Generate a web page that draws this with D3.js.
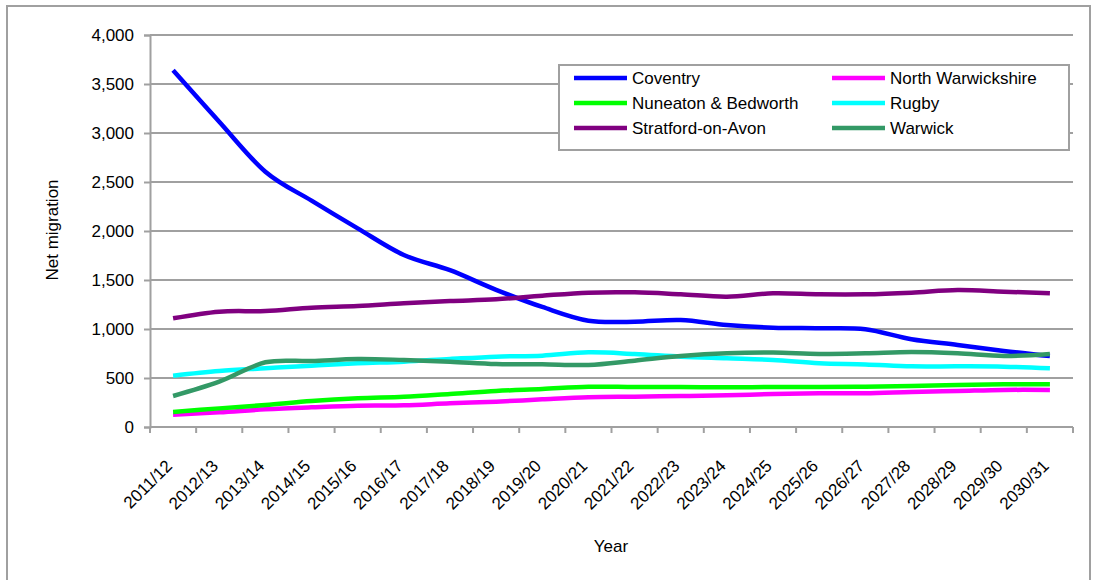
<!DOCTYPE html>
<html>
<head>
<meta charset="utf-8">
<script src="https://cdn.jsdelivr.net/npm/d3@7"></script>
<style>
  html, body { margin: 0; padding: 0; background: #fff; }
  svg { display: block; font-family: "Liberation Sans", Arial, sans-serif; }
</style>
</head>
<body>
<svg id="chart" width="1096" height="580"></svg>
<script>
const years = ["2011/12","2012/13","2013/14","2014/15","2015/16","2016/17","2017/18","2018/19","2019/20","2020/21",
               "2021/22","2022/23","2023/24","2024/25","2025/26","2026/27","2027/28","2028/29","2029/30","2030/31"];
const yTicks = [0, 500, 1000, 1500, 2000, 2500, 3000, 3500, 4000];

const coventry = [3640, 3115, 2605, 2310, 2027, 1755, 1600, 1400, 1225, 1085, 1075, 1092, 1041, 1014, 1007, 997, 895, 837, 776, 724];
const northWarwickshire = [126, 150, 180, 201, 218, 221, 242, 258, 282, 303, 309, 316, 323, 337, 344, 344, 357, 367, 378, 378];
const nuneaton = [153, 190, 224, 265, 293, 309, 337, 367, 388, 411, 408, 408, 405, 408, 408, 411, 418, 429, 435, 435];
const rugby = [524, 571, 599, 626, 650, 667, 694, 718, 728, 762, 745, 718, 701, 684, 650, 639, 619, 619, 616, 599];
const stratford = [1109, 1177, 1184, 1218, 1235, 1262, 1285, 1303, 1340, 1371, 1374, 1354, 1330, 1364, 1354, 1354, 1371, 1398, 1381, 1364];
const warwick = [316, 462, 660, 673, 694, 684, 667, 643, 640, 633, 677, 724, 752, 759, 745, 752, 765, 752, 724, 745];

const seriesNames = ["Coventry", "North Warwickshire", "Nuneaton & Bedworth", "Rugby", "Stratford-on-Avon", "Warwick"];
const seriesValues = [coventry, northWarwickshire, nuneaton, rugby, stratford, warwick];
const seriesColors = ["#0000ff", "#ff00ff", "#00ff00", "#00ffff", "#800080", "#339966"];

(function () {
const svg = d3.select("#chart");
const grid = "#a0a0a0";
const fontSize = 17;

// outer frame
svg.append("rect").attr("x", 7).attr("y", 6).attr("width", 1083).attr("height", 590)
  .attr("fill", "none").attr("stroke", grid).attr("stroke-width", 2);

const pL = 150, pR = 1073, pT = 35, pB = 427;
const x = d3.scaleBand().domain(years).range([pL, pR]).paddingInner(0).paddingOuter(0);
const y = d3.scaleLinear().domain([0, 4000]).range([pB, pT]);

// gridlines
svg.append("g").selectAll("line").data(yTicks.filter(d => d > 0)).join("line")
  .attr("x1", pL).attr("x2", pR)
  .attr("y1", d => y(d)).attr("y2", d => y(d))
  .attr("stroke", grid).attr("stroke-width", 2);

// y axis
const yAxis = svg.append("g").attr("transform", `translate(${pL},0)`)
  .call(d3.axisLeft(y).tickValues(yTicks).tickSize(6).tickPadding(10).tickFormat(d3.format(",")));
yAxis.select(".domain").attr("stroke", grid).attr("stroke-width", 2);
yAxis.selectAll(".tick line").attr("stroke", grid).attr("stroke-width", 2);
yAxis.selectAll(".tick text").attr("font-size", fontSize).attr("fill", "#000")
  .attr("font-family", "Liberation Sans, Arial, sans-serif");

// x axis (ticks at band boundaries)
const xb = svg.append("g");
xb.append("line").attr("x1", pL).attr("x2", pR).attr("y1", pB).attr("y2", pB)
  .attr("stroke", grid).attr("stroke-width", 2);
const boundaries = years.map(d => x(d)).concat([x(years[years.length - 1]) + x.bandwidth()]);
xb.selectAll("line.tk").data(boundaries).join("line").attr("class", "tk")
  .attr("x1", d => d).attr("x2", d => d).attr("y1", pB).attr("y2", pB + 6)
  .attr("stroke", grid).attr("stroke-width", 2);
xb.selectAll("text").data(years).join("text")
  .attr("transform", d => `translate(${x(d) + x.bandwidth() / 2},${pB + 40}) rotate(-45)`)
  .attr("text-anchor", "end").attr("font-size", fontSize).attr("fill", "#000")
  .text(d => d);

// axis titles
svg.append("text").attr("transform", `translate(58,230) rotate(-90)`)
  .attr("text-anchor", "middle").attr("font-size", fontSize).text("Net migration");
svg.append("text").attr("x", 611).attr("y", 552)
  .attr("text-anchor", "middle").attr("font-size", fontSize).text("Year");

// lines
const line = d3.line()
  .x((d, i) => x(years[i]) + x.bandwidth() / 2)
  .y(d => y(d))
  .curve(d3.curveCardinal.tension(0));
svg.append("g").selectAll("path").data(seriesValues).join("path")
  .attr("d", d => line(d)).attr("fill", "none")
  .attr("stroke", (d, i) => seriesColors[i]).attr("stroke-width", 4.5)
  .attr("stroke-linejoin", "round");

// legend
const lg = svg.append("g");
lg.append("rect").attr("x", 559).attr("y", 65).attr("width", 510).attr("height", 85)
  .attr("fill", "#fff").attr("stroke", grid).attr("stroke-width", 2);
[0, 1, 2, 3, 4, 5].forEach((si, k) => {
  const col = k % 2, row = Math.floor(k / 2);
  const lx = col === 0 ? 574 : 832;
  const ly = 78 + row * 25;
  lg.append("line").attr("x1", lx).attr("x2", lx + 53).attr("y1", ly).attr("y2", ly)
    .attr("stroke", seriesColors[si]).attr("stroke-width", 4.5);
  lg.append("text").attr("x", lx + 58).attr("y", ly).attr("dy", "0.36em")
    .attr("font-size", fontSize).attr("fill", "#000").text(seriesNames[si]);
});
})();
</script>
</body>
</html>
